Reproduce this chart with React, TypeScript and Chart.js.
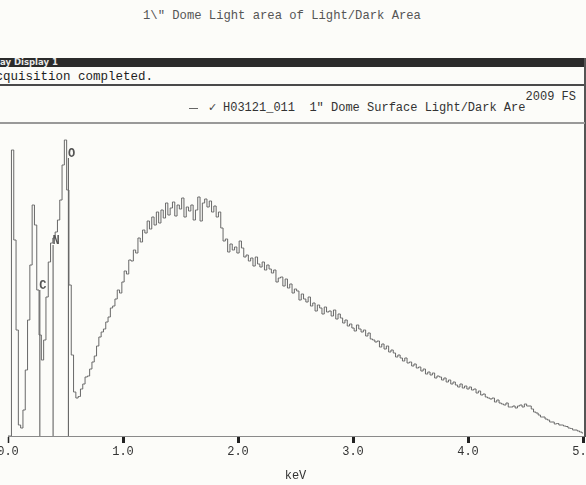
import React, { useEffect, useRef } from 'react';
import { Chart, registerables } from 'chart.js';

Chart.register(...registerables);

// ---- data ----
const energyStep = 0.02; // keV per channel
const counts = [
  0, 0, 2860, 1960, 1060, 110, 80, 260, 660, 1160,
  1710, 2310, 2110, 1460, 1010, 760, 960, 1390, 1740, 1930,
  1980, 2040, 2160, 2360, 2710, 2960, 2460, 1510, 810, 440,
  380, 395, 470, 520, 590, 600, 670, 740, 800, 900,
  990, 1040, 1070, 1140, 1190, 1280, 1300, 1370, 1460, 1430,
  1540, 1650, 1620, 1760, 1750, 1860, 1830, 1980, 1940, 2060,
  2030, 2150, 2070, 2190, 2110, 2240, 2130, 2260, 2180, 2330,
  2210, 2280, 2340, 2200, 2310, 2270, 2380, 2190, 2290, 2250,
  2310, 2160, 2260, 2390, 2150, 2330, 2370, 2290, 2350, 2240,
  2300, 2190, 2240, 2080, 1950, 1970, 1840, 1920, 1860, 1890,
  1830, 1950, 1880, 1790, 1810, 1750, 1780, 1700, 1790, 1720,
  1690, 1740, 1660, 1710, 1670, 1630, 1660, 1540, 1580, 1590,
  1500, 1570, 1480, 1520, 1430, 1470, 1450, 1360, 1420, 1370,
  1340, 1390, 1300, 1330, 1250, 1310, 1280, 1220, 1290, 1240,
  1250, 1200, 1260, 1170, 1220, 1180, 1130, 1160, 1100, 1120,
  1080, 1050, 1110, 1070, 1040, 1060, 1000, 1030, 970, 960,
  940, 950, 890, 920, 870, 900, 840, 860, 830, 790,
  810, 780, 750, 780, 730, 740, 700, 720, 680, 690,
  650, 670, 620, 640, 610, 630, 580, 600, 590, 560,
  580, 540, 560, 520, 540, 510, 490, 520, 480, 500,
  470, 490, 460, 470, 430, 450, 410, 420, 390, 380,
  370, 380, 340, 360, 330, 320, 310, 330, 290, 290,
  300, 280, 300, 310, 290, 320, 300, 300, 270, 240,
  230, 210, 190, 190, 170, 160, 140, 140, 120, 125,
  110, 110, 100, 95, 80, 75, 60, 60, 50, 40,
  30,
];
const markerNames = ['C', 'N', 'O'];
const markerEnergies = [0.277, 0.392, 0.525];
const markerHeights = [1460, 1910, 2780];
const tickLabels = ['0.0', '1.0', '2.0', '3.0', '4.0', '5.0'];
const xAxisTitle = 'keV';
const chartTitle = '1\\" Dome Light area of Light/Dark Area';
const windowTitle = 'ay Display 1';
const statusText = 'Acquisition completed.';
const fullScale = '2009 FS';
const legendName = 'H03121_011';
const legendDesc = '1" Dome Surface Light/Dark Are';

const MONO = '"Liberation Mono", "DejaVu Sans Mono", monospace';

const markerLabelPlugin = {
  id: 'markerLabels',
  afterDatasetsDraw(chart: any) {
    const { ctx, scales } = chart;
    const xs = scales.x;
    const ys = scales.y;
    ctx.save();
    ctx.font = `bold 12px ${MONO}`;
    ctx.fillStyle = '#555';
    ctx.textBaseline = 'middle';
    ctx.textAlign = 'left';
    markerNames.forEach((n, i) => {
      const px = xs.getPixelForValue(markerEnergies[i]);
      const py = ys.getPixelForValue(markerHeights[i]);
      ctx.fillText(n, px - 0.5, py - 4);
    });
    ctx.restore();
  },
};

export default function App() {
  const canvasRef = useRef<HTMLCanvasElement | null>(null);

  useEffect(() => {
    if (!canvasRef.current) return;
    const spectrum = counts.map((c, i) => ({ x: +(i * energyStep).toFixed(2), y: c }));
    const markerSets = markerNames.map((n, i) => ({
      label: n,
      data: [
        { x: markerEnergies[i], y: 0 },
        { x: markerEnergies[i], y: markerHeights[i] },
      ],
      borderColor: '#555',
      borderWidth: 1,
      pointRadius: 0,
      fill: false,
    }));
    const chart = new Chart(canvasRef.current, {
      type: 'line',
      data: {
        datasets: [
          {
            label: legendName,
            data: spectrum,
            borderColor: '#686868',
            borderWidth: 1,
            pointRadius: 0,
            stepped: 'middle',
            fill: false,
          } as any,
          ...markerSets,
        ],
      },
      options: {
        animation: false,
        responsive: false,
        maintainAspectRatio: false,
        layout: { padding: { left: 28, right: 23, top: 2, bottom: 0 } },
        plugins: {
          legend: { display: false },
          tooltip: { enabled: false },
          title: { display: false },
        },
        scales: {
          x: {
            type: 'linear',
            min: 0,
            max: 5,
            afterFit: (s: any) => {
              s.height = 49;
            },
            ticks: {
              stepSize: 1,
              autoSkip: false,
              maxRotation: 0,
              padding: 2,
              color: '#333',
              font: { family: MONO, size: 12 },
              callback: (v: any) => tickLabels[Math.round(Number(v))] ?? '',
            },
            grid: {
              display: true,
              drawOnChartArea: false,
              drawTicks: true,
              tickLength: 7,
              tickWidth: (c: any) => (c.index === 0 ? 1.5 : 3),
              tickColor: '#222',
            },
            border: { display: true, color: '#8a8a8a', width: 1 },
            title: {
              display: true,
              text: xAxisTitle,
              color: '#333',
              font: { family: MONO, size: 12 },
              padding: { top: 0, bottom: 2 },
            },
          },
          y: { display: false, min: 0, max: 3100 },
        },
      } as any,
      plugins: [markerLabelPlugin],
    });
    return () => chart.destroy();
  }, []);

  const abs = (s: React.CSSProperties): React.CSSProperties => ({ position: 'absolute', margin: 0, ...s });

  return (
    <div style={abs({ left: 0, top: 0, width: 586, height: 485, overflow: 'hidden', background: '#fcfcf9' })}>
      <div style={abs({ left: 143, top: 8, fontFamily: MONO, fontSize: 12.2, lineHeight: '16px', color: '#555', whiteSpace: 'pre' })}>
        {chartTitle}
      </div>
      <div style={abs({ left: 0, top: 58, width: 585, height: 9, background: '#2b2b2b' })} />
      <div style={abs({ left: 0, top: 58, fontFamily: '"DejaVu Sans", sans-serif', fontSize: 8.5, lineHeight: '9px', color: '#e8e8e8', whiteSpace: 'pre', fontWeight: 'bold' })}>
        {windowTitle}
      </div>
      <div style={abs({ left: -12, top: 69, fontFamily: MONO, fontSize: 12.5, lineHeight: '16px', color: '#1e1e1e', whiteSpace: 'pre', fontWeight: 500 })}>
        {statusText}
      </div>
      <div style={abs({ left: 0, top: 84, width: 585, height: 2, background: '#4a4a4a' })} />
      <div style={abs({ left: 584, top: 58, width: 1.5, height: 379, background: '#555' })} />
      <div style={abs({ right: 10, top: 89, fontFamily: MONO, fontSize: 12, lineHeight: '16px', color: '#333', whiteSpace: 'pre' })}>
        {fullScale}
      </div>
      <div style={abs({ left: 189, top: 108, width: 9, height: 1, background: '#666' })} />
      <div style={abs({ left: 208, top: 100, fontFamily: '"DejaVu Sans", sans-serif', fontSize: 11, lineHeight: '16px', color: '#444' })}>
        ✓
      </div>
      <div style={abs({ left: 223, top: 100, fontFamily: MONO, fontSize: 12, lineHeight: '16px', color: '#333', whiteSpace: 'pre' })}>
        {legendName + '  ' + legendDesc}
      </div>
      <div style={abs({ left: 0, top: 122, width: 585, height: 1.5, background: '#999' })} />
      <canvas
        ref={canvasRef}
        width={626}
        height={361}
        style={abs({ left: -20, top: 124, width: 626, height: 361 })}
      />
    </div>
  );
}
